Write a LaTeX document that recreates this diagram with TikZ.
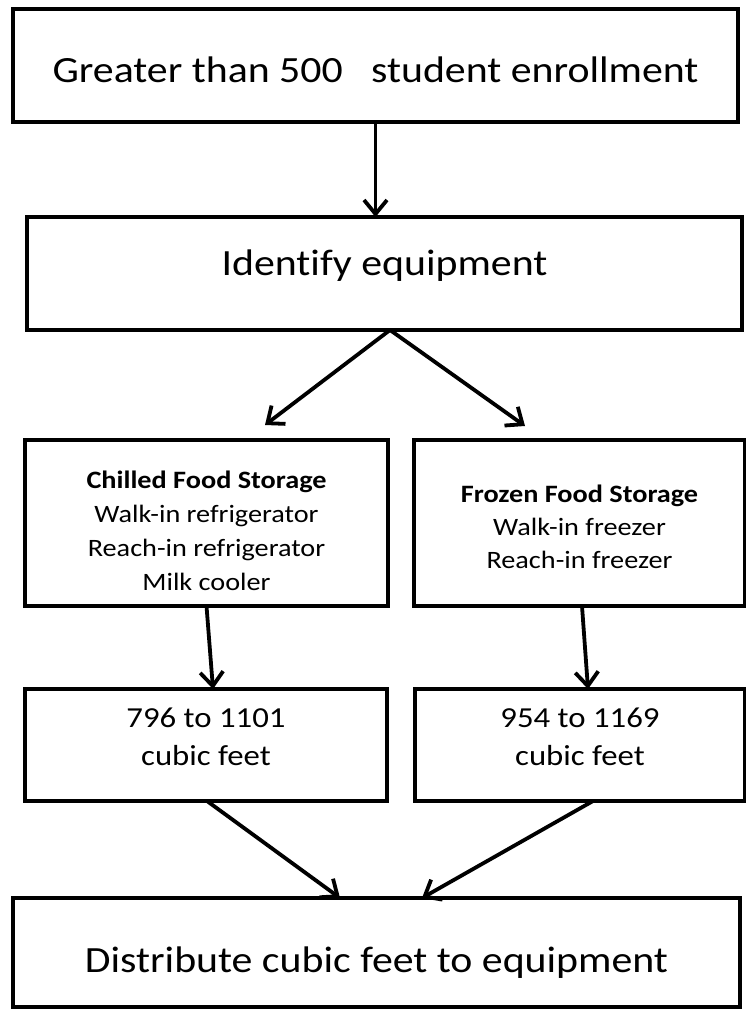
\documentclass[tikz,border=0pt]{standalone}
\usepackage{fontspec}
\setmainfont{Carlito}[FakeStretch=1.13,Ligatures=CommonOff]
\usetikzlibrary{arrows.meta}
\begin{document}
\begin{tikzpicture}[x=1pt,y=-1pt,
  box/.style={draw=black, line width=4.5pt, rectangle, inner sep=0pt, outer sep=0pt, align=center, text=black},
  bigtext/.style={font=\fontsize{37}{42}\selectfont},
  midtext/.style={font=\fontsize{29}{38}\selectfont},
  smalltext/.style={font=\fontsize{25}{34}\selectfont},
  smalltextb/.style={font=\fontsize{25}{33}\selectfont},
  conn/.style={line width=3.8pt, -{Straight Barb[length=14pt,width=23pt,line width=3.8pt]}}
]
\useasboundingbox (0,0) rectangle (746,1009);
\fill[white] (0,0) rectangle (746,1009);

\node[box, bigtext, minimum width=725pt, minimum height=113pt, text height=33pt, text depth=0pt] (top) at (375.5,65.5)
  {Greater than 500\ \ \ student enrollment};
\node[box, bigtext, minimum width=715pt, minimum height=113pt, text height=3pt, text depth=0pt] (eq) at (384.5,273.5)
  {Identify equipment};
\node[box, smalltext, minimum width=363pt, minimum height=166pt, text height=134pt, text depth=0pt] (chilled) at (206.5,523)
  {\textbf{Chilled Food Storage}\\Walk-in refrigerator\\Reach-in refrigerator\\Milk cooler};
\node[box, smalltextb, minimum width=331pt, minimum height=166pt, text height=90pt, text depth=0pt] (frozen) at (579.5,523)
  {\textbf{Frozen Food Storage}\\Walk-in freezer\\Reach-in freezer};
\node[box, midtext, minimum width=362pt, minimum height=112pt, text height=40pt, text depth=0pt] (q5) at (206,745)
  {796 to 1101\\cubic feet};
\node[box, midtext, minimum width=330pt, minimum height=112pt, text height=40pt, text depth=0pt] (q6) at (580,745)
  {954 to 1169\\cubic feet};
\node[box, bigtext, minimum width=727pt, minimum height=109pt, text height=39pt, text depth=0pt] (dist) at (376.5,952.5)
  {Distribute cubic feet to equipment};

\coordinate (tipL) at (265,425);
\coordinate (tipR) at (525,426);

\draw[conn] (top.south) -- (top.south |- eq.north);
\draw[conn] ([xshift=5.5pt]eq.south) -- (tipL);
\draw[conn] ([xshift=5.5pt]eq.south) -- (tipR);
\draw[conn] (chilled.south) -- ([xshift=7pt]q5.north);
\draw[conn] ([xshift=2.5pt]frozen.south) -- ([xshift=8pt]q6.north);
\draw[conn] ([xshift=1pt]q5.south) -- ([xshift=-36.5pt]dist.north);
\draw[conn] ([xshift=13pt]q6.south) -- ([xshift=45.5pt]dist.north);
\end{tikzpicture}
\end{document}
